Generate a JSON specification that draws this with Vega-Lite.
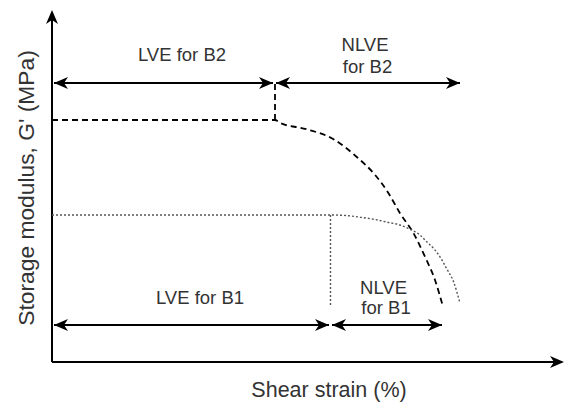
{
  "$schema": "https://vega.github.io/schema/vega-lite/v6.json",
  "width": 505,
  "height": 352,
  "autosize": "none",
  "padding": {"left": 52, "top": 10, "right": 8, "bottom": 42},
  "background": "white",
  "config": {"view": {"stroke": null}},
  "datasets": {
    "axes": [
      {"x": 0, "y": 0, "x2": 102, "y2": 0},
      {"x": 0, "y": 0, "x2": 0, "y2": 87.5}
    ],
    "b2": [
      {"x": 0, "y": 60.5},
      {"x": 44.6, "y": 60.5},
      {"x": 45.6, "y": 59.8},
      {"x": 50.9, "y": 58.2},
      {"x": 56.3, "y": 55.7},
      {"x": 60.9, "y": 51.3},
      {"x": 64.6, "y": 46.8},
      {"x": 67.3, "y": 42.2},
      {"x": 69.6, "y": 37.2},
      {"x": 72.3, "y": 32.2},
      {"x": 74.6, "y": 26.3},
      {"x": 76.6, "y": 20.5},
      {"x": 78.1, "y": 14.25}
    ],
    "b2link": [{"x": 44.6, "y": 60.5, "y2": 69.75}],
    "b1": [
      {"x": 0, "y": 36.75},
      {"x": 55.7, "y": 36.75},
      {"x": 58.9, "y": 36.6},
      {"x": 61.6, "y": 36.2},
      {"x": 64.3, "y": 35.7},
      {"x": 66.9, "y": 35.0},
      {"x": 69.6, "y": 34.25},
      {"x": 71.6, "y": 33.2},
      {"x": 73.6, "y": 31.75},
      {"x": 74.9, "y": 30.1},
      {"x": 76.3, "y": 28.4},
      {"x": 77.6, "y": 26.3},
      {"x": 78.9, "y": 23.4},
      {"x": 80.3, "y": 20.1},
      {"x": 81.6, "y": 14.7}
    ],
    "b1link": [{"x": 55.7, "y": 36.75, "y2": 13.75}],
    "ranges": [
      {"x": 0.4, "x2": 44.2, "y": 69.75},
      {"x": 44.8, "x2": 81.6, "y": 69.75},
      {"x": 0.4, "x2": 55.4, "y": 9.25},
      {"x": 56.0, "x2": 78.0, "y": 9.25}
    ],
    "heads": [
      {"x": 0, "y": 88, "dir": "up"},
      {"x": 102.4, "y": 0, "dir": "right"},
      {"x": 0.4, "y": 69.75, "dir": "left"},
      {"x": 44.2, "y": 69.75, "dir": "right"},
      {"x": 44.8, "y": 69.75, "dir": "left"},
      {"x": 81.6, "y": 69.75, "dir": "right"},
      {"x": 0.4, "y": 9.25, "dir": "left"},
      {"x": 55.4, "y": 9.25, "dir": "right"},
      {"x": 56.0, "y": 9.25, "dir": "left"},
      {"x": 78.0, "y": 9.25, "dir": "right"}
    ],
    "labels": [
      {"x": 26, "y": 76.75, "label": "LVE for B2"},
      {"x": 62.6, "y": 79.25, "label": "NLVE"},
      {"x": 63.1, "y": 73.8, "label": "for B2"},
      {"x": 29.6, "y": 16, "label": "LVE for B1"},
      {"x": 66.3, "y": 18.6, "label": "NLVE"},
      {"x": 66.8, "y": 13.6, "label": "for B1"}
    ]
  },
  "encoding": {
    "x": {
      "field": "x",
      "type": "quantitative",
      "scale": {"domain": [0, 101], "nice": false, "zero": false},
      "axis": {
        "title": "Shear strain (%)",
        "domain": false, "ticks": false, "labels": false, "grid": false,
        "titleX": 276.5, "titleY": 34, "titleBaseline": "alphabetic",
        "titleFont": "Liberation Sans", "titleFontSize": 21.5, "titleFontWeight": "normal", "titleColor": "#333333"
      }
    },
    "y": {
      "field": "y",
      "type": "quantitative",
      "scale": {"domain": [0, 88], "nice": false, "zero": false},
      "axis": {
        "title": "Storage modulus, G' (MPa)",
        "domain": false, "ticks": false, "labels": false, "grid": false,
        "titleX": -19, "titleY": 177.5, "titleAngle": 270, "titleBaseline": "alphabetic",
        "titleFont": "Liberation Sans", "titleFontSize": 22.8, "titleFontWeight": "normal", "titleColor": "#333333"
      }
    }
  },
  "layer": [
    {
      "data": {"name": "axes"},
      "mark": {"type": "rule", "color": "black", "strokeWidth": 2},
      "encoding": {"x2": {"field": "x2"}, "y2": {"field": "y2"}}
    },
    {
      "data": {"name": "b2"},
      "mark": {"type": "line", "color": "black", "strokeWidth": 1.8, "strokeDash": [6, 4], "interpolate": "monotone"},
      "encoding": {}
    },
    {
      "data": {"name": "b2link"},
      "mark": {"type": "rule", "color": "black", "strokeWidth": 1.8, "strokeDash": [6, 4]},
      "encoding": {"y2": {"field": "y2"}}
    },
    {
      "data": {"name": "b1"},
      "mark": {"type": "line", "color": "#555555", "strokeWidth": 1.4, "strokeDash": [2, 2], "interpolate": "monotone"},
      "encoding": {}
    },
    {
      "data": {"name": "b1link"},
      "mark": {"type": "rule", "color": "#555555", "strokeWidth": 1.4, "strokeDash": [2, 2]},
      "encoding": {"y2": {"field": "y2"}}
    },
    {
      "data": {"name": "ranges"},
      "mark": {"type": "rule", "color": "black", "strokeWidth": 2},
      "encoding": {"x2": {"field": "x2"}}
    },
    {
      "data": {"name": "heads"},
      "mark": {"type": "point", "filled": true, "size": 4, "color": "black", "opacity": 1, "strokeWidth": 0},
      "encoding": {
        "shape": {
          "field": "dir",
          "type": "nominal",
          "scale": {
            "domain": ["right", "left", "up"],
            "range": ["M0,0L-14,-6L-10,0L-14,6Z", "M0,0L14,-6L10,0L14,6Z", "M0,0L-6,14L0,10L6,14Z"]
          },
          "legend": null
        }
      }
    },
    {
      "data": {"name": "labels"},
      "mark": {"type": "text", "font": "Liberation Sans", "fontSize": 18.5, "color": "#333333", "align": "center", "baseline": "middle"},
      "encoding": {"text": {"field": "label"}}
    }
  ]
}
